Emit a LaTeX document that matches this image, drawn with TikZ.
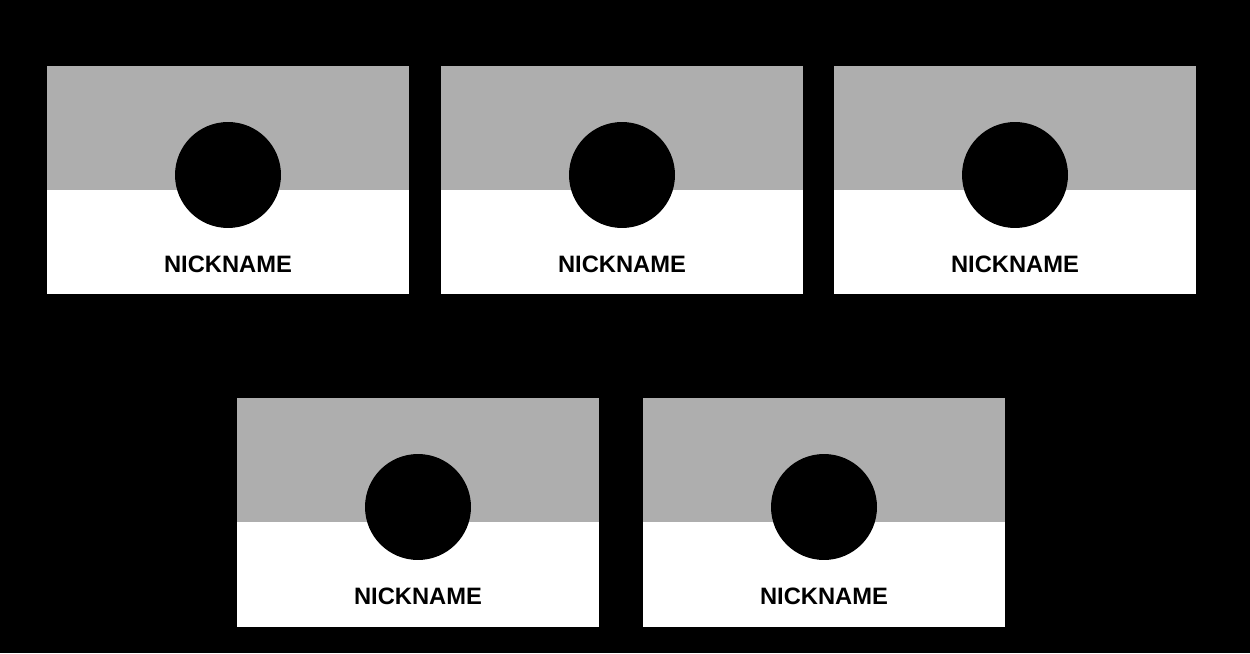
\documentclass[tikz,border=0pt]{standalone}
\usepackage{fontspec}
\setmainfont{Liberation Sans}
\definecolor{cardgray}{HTML}{AEAEAE}
\tikzset{
  avatar/.style={circle, fill=black, inner sep=0pt, minimum size=2.12cm},
  nick/.style={inner sep=0pt, font=\bfseries\fontsize{13.5}{15}\selectfont}
}

\begin{document}
\begin{tikzpicture}[x=0.02cm, y=0.02cm]
      \fill[black] (0,0) rectangle (1250,653);

      \foreach \n/\x/\y in {1/47/587, 2/441/587, 3/834/587, 4/237/255, 5/643/255} {
        \fill[cardgray] (\x,\y) rectangle ++(362,-124);
        \fill[white] (\x,\y-124) rectangle ++(362,-104.5);
        \node[avatar] (avatar\n) at (\x+181,\y-109) {};
        \node[nick] (nick\n) at (\x+181,\y-198) {NICKNAME};
      }
    \end{tikzpicture}
\end{document}
